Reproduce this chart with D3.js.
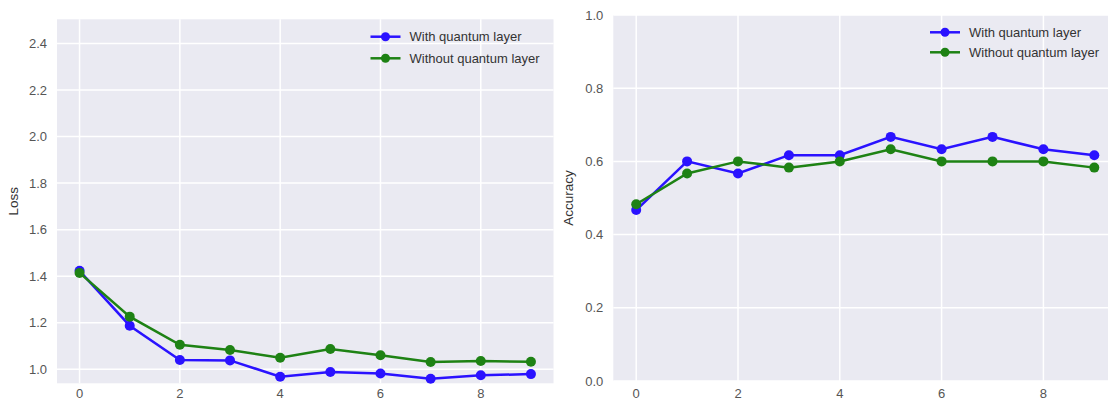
<!doctype html>
<html>
  <head>
    <script src="https://cdn.jsdelivr.net/npm/d3@7/dist/d3.min.js"></script>
    <style>
      body { margin: 0; background: #fff; }
      text { font-family: "Liberation Sans", Arial, sans-serif; }
    </style>
  </head>
  <body>
    <svg id="chart" width="1108" height="403"></svg>
    <script>
      var epochs = [0, 1, 2, 3, 4, 5, 6, 7, 8, 9];
      var lossWith = [1.423, 1.187, 1.040, 1.038, 0.968, 0.988, 0.982, 0.959, 0.974, 0.979];
      var lossWithout = [1.414, 1.226, 1.105, 1.083, 1.049, 1.087, 1.060, 1.031, 1.035, 1.032];
      var accWith = [0.467, 0.600, 0.567, 0.617, 0.617, 0.667, 0.633, 0.667, 0.633, 0.617];
      var accWithout = [0.483, 0.567, 0.600, 0.583, 0.600, 0.633, 0.600, 0.600, 0.600, 0.583];
      var xTicks = [0, 2, 4, 6, 8];
      var lossTicks = [1.0, 1.2, 1.4, 1.6, 1.8, 2.0, 2.2, 2.4];
      var accTicks = [0.0, 0.2, 0.4, 0.6, 0.8, 1.0];
      var seriesNames = ["With quantum layer", "Without quantum layer"];
      var colors = ["#2a12ff", "#1e8214"];

      var svg = d3.select("#chart");

      function panel(opt) {
        var x = d3.scaleLinear().domain([-0.45, 9.45]).range([opt.left, opt.right]);
        var y = d3.scaleLinear().domain(opt.yDomain).range([opt.bottom, opt.top]);
        var g = svg.append("g");

        g.append("rect")
          .attr("x", opt.left).attr("y", opt.top)
          .attr("width", opt.right - opt.left).attr("height", opt.bottom - opt.top)
          .attr("fill", "#eaeaf2");

        // grid
        g.selectAll(".gx").data(xTicks).enter().append("line")
          .attr("x1", d => x(d)).attr("x2", d => x(d))
          .attr("y1", opt.top).attr("y2", opt.bottom)
          .attr("stroke", "#fff").attr("stroke-width", 1.5);
        g.selectAll(".gy").data(opt.yTicks).enter().append("line")
          .attr("x1", opt.left).attr("x2", opt.right)
          .attr("y1", d => y(d)).attr("y2", d => y(d))
          .attr("stroke", "#fff").attr("stroke-width", 1.5);

        // tick labels
        g.selectAll(".tx").data(xTicks).enter().append("text")
          .attr("x", d => x(d)).attr("y", 398)
          .attr("text-anchor", "middle")
          .attr("font-size", 13).attr("fill", "#555")
          .text(d => d);
        g.selectAll(".ty").data(opt.yTicks).enter().append("text")
          .attr("x", opt.left - 10).attr("y", d => y(d))
          .attr("dy", "0.35em")
          .attr("text-anchor", "end")
          .attr("font-size", 13).attr("fill", "#555")
          .text(d => d.toFixed(1));

        g.append("text")
          .attr("transform", "translate(" + opt.labelX + "," + ((opt.top + opt.bottom) / 2) + ") rotate(-90)")
          .attr("text-anchor", "middle")
          .attr("font-size", 13.5).attr("fill", "#333")
          .text(opt.label);

        var line = d3.line().x((d, i) => x(epochs[i])).y(d => y(d));
        opt.series.forEach(function (s, k) {
          g.append("path")
            .attr("d", line(s))
            .attr("fill", "none")
            .attr("stroke", colors[k])
            .attr("stroke-width", 2.5);
          g.selectAll(".m" + k).data(s).enter().append("circle")
            .attr("cx", (d, i) => x(epochs[i])).attr("cy", d => y(d))
            .attr("r", 5)
            .attr("fill", colors[k]);
        });

        // legend
        seriesNames.forEach(function (name, k) {
          var ly = opt.legendY + k * opt.legendStep;
          g.append("line")
            .attr("x1", opt.legendX).attr("x2", opt.legendX + 30)
            .attr("y1", ly).attr("y2", ly)
            .attr("stroke", colors[k]).attr("stroke-width", 2.5);
          g.append("circle")
            .attr("cx", opt.legendX + 15).attr("cy", ly).attr("r", 4.5)
            .attr("fill", colors[k]);
          g.append("text")
            .attr("x", opt.legendX + 39).attr("y", ly)
            .attr("dy", "0.35em")
            .attr("font-size", 13).attr("fill", "#333")
            .text(name);
        });
      }

      panel({
        left: 57, right: 553.5, top: 19.3, bottom: 383.3,
        yDomain: [0.9395, 2.504], yTicks: lossTicks,
        label: "Loss", labelX: 18,
        series: [lossWith, lossWithout],
        legendX: 370.5, legendY: 36.7, legendStep: 21.6
      });

      panel({
        left: 613.3, right: 1117.2, top: 15, bottom: 381,
        yDomain: [0, 1], yTicks: accTicks,
        label: "Accuracy", labelX: 573,
        series: [accWith, accWithout],
        legendX: 930, legendY: 32.3, legendStep: 20
      });
    </script>
  </body>
</html>
